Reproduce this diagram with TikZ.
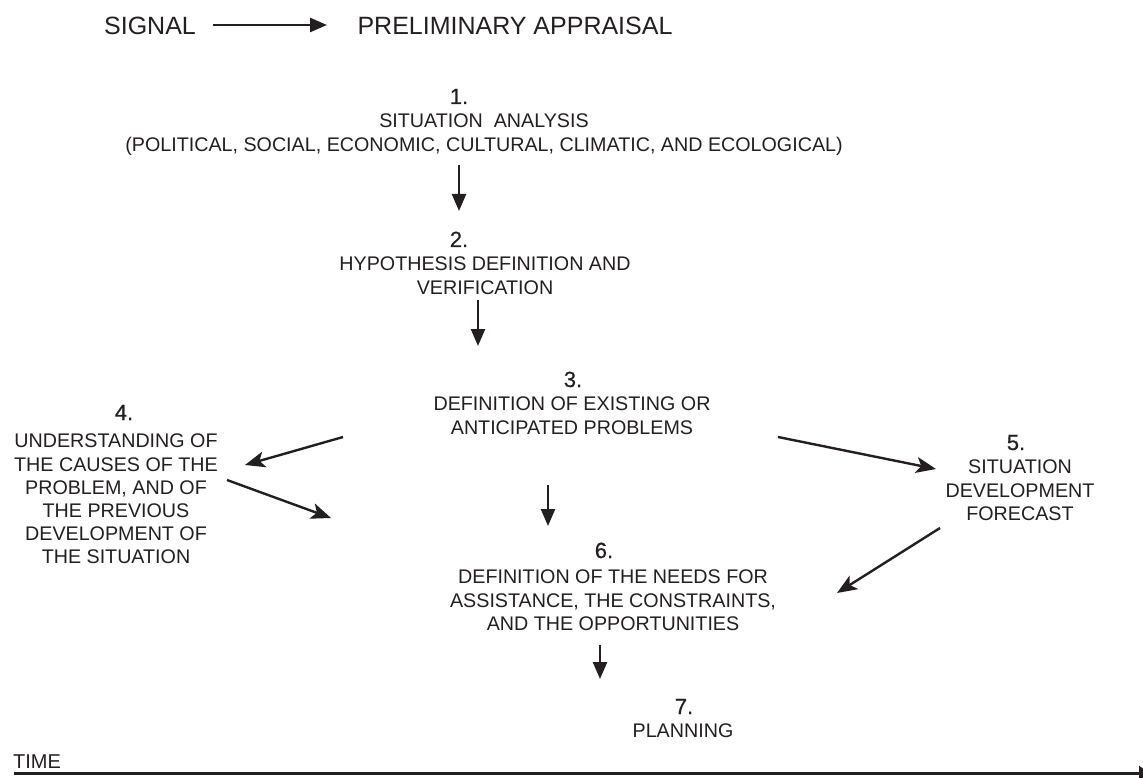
\documentclass[tikz,border=0pt]{standalone}
\usepackage{fontspec}
\setmainfont{Liberation Sans}
\usetikzlibrary{arrows.meta}
\definecolor{ink}{HTML}{231F20}
\begin{document}
\begin{tikzpicture}[x=1pt,y=-1pt,
  every node/.style={inner sep=0pt, text=ink},
  txt/.style={font=\fontsize{19.7}{23.2}\selectfont, align=center, anchor=north},
  num/.style={font=\fontsize{22}{24}\selectfont\addfontfeature{FakeBold=0.6}, anchor=base},
  big/.style={font=\fontsize{25}{28}\selectfont, anchor=base},
  arr/.style={draw=ink, line width=2.4pt, -{Stealth[length=20pt,width=16pt,inset=5pt]}},
  varr/.style={draw=ink, line width=2.4pt, -{Triangle[length=17pt,width=14pt]}},
]
\useasboundingbox (0,0) rectangle (1143,778);
\clip (0,0) rectangle (1143,778);

% header line
\node[big] (signal) at (150,35) {SIGNAL};
\node[big] (prelim) at (515,35) {PRELIMINARY APPRAISAL};
\coordinate (s0) at (213,25);
\coordinate (s1) at (327,25);
\draw[varr] (s0) -- (s1);

% step 1
\node[num] (n1) at (459,104) {1.};
\node[txt] (t1) at (484,114) {SITUATION\ \ ANALYSIS\\(POLITICAL, SOCIAL, ECONOMIC, CULTURAL, CLIMATIC, AND ECOLOGICAL)};

% step 2
\node[num] (n2) at (459,247) {2.};
\node[txt] (t2) at (485,257) {HYPOTHESIS DEFINITION AND\\VERIFICATION};

% step 3
\node[num] (n3) at (573,387) {3.};
\node[txt] (t3) at (572,397) {DEFINITION OF EXISTING OR\\ANTICIPATED PROBLEMS};

% step 4
\node[num] (n4) at (124,420) {4.};
\node[txt] (t4) at (116,434) {UNDERSTANDING OF\\THE CAUSES OF THE\\PROBLEM, AND OF\\THE PREVIOUS\\DEVELOPMENT OF\\THE SITUATION};

% step 5
\node[num] (n5) at (1016,450) {5.};
\node[txt] (t5) at (1020,460) {SITUATION\\DEVELOPMENT\\FORECAST};

% step 6
\node[num] (n6) at (604,558) {6.};
\node[txt] (t6) at (613,570) {DEFINITION OF THE NEEDS FOR\\ASSISTANCE, THE CONSTRAINTS,\\AND THE OPPORTUNITIES};

% step 7
\node[num] (n7) at (684,714) {7.};
\node[txt] (t7) at (683,724) {PLANNING};

% connector end points
\coordinate (a12s) at (459,165);  \coordinate (a12e) at (459,211);
\coordinate (a23s) at (478,300);  \coordinate (a23e) at (478,346);
\coordinate (a34s) at (343,437);  \coordinate (a34e) at (245,465);
\coordinate (a35s) at (778,437);  \coordinate (a35e) at (936,469);
\coordinate (a36s) at (548,485);  \coordinate (a36e) at (548,526);
\coordinate (a46s) at (227,480);  \coordinate (a46e) at (331,518);
\coordinate (a56s) at (940,528);  \coordinate (a56e) at (837,593);
\coordinate (a67s) at (600,645);  \coordinate (a67e) at (600,679);

\draw[varr] (a12s) -- (a12e);
\draw[varr] (a23s) -- (a23e);
\draw[arr]  (a34s) -- (a34e);
\draw[arr]  (a35s) -- (a35e);
\draw[varr] (a36s) -- (a36e);
\draw[arr]  (a46s) -- (a46e);
\draw[arr]  (a56s) -- (a56e);
\draw[varr] (a67s) -- (a67e);

% time axis
\node[font=\fontsize{20}{22}\selectfont, anchor=base west] (time) at (13,768) {TIME};
\coordinate (t0) at (14,773);
\coordinate (t1e) at (1149,773);
\draw[draw=ink, line width=3pt, -{Triangle[length=10pt,width=14pt]}] (t0) -- (t1e);
\end{tikzpicture}
\end{document}
